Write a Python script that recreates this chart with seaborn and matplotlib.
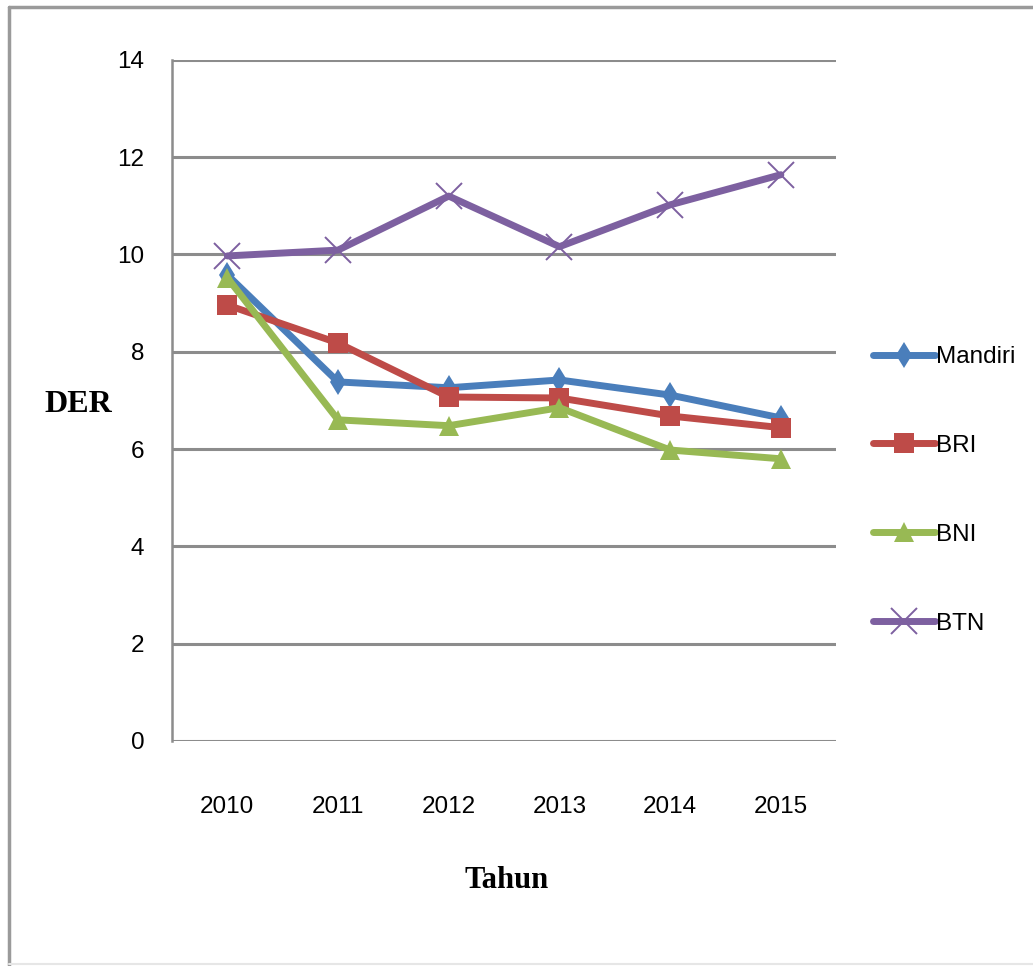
import pandas as pd
import seaborn as sns
import matplotlib.pyplot as plt
from matplotlib.lines import Line2D

# DER per bank, 2010-2015
years = [2010, 2011, 2012, 2013, 2014, 2015]
banks = ['Mandiri', 'BRI', 'BNI', 'BTN']
mandiri = [9.58, 7.38, 7.26, 7.42, 7.11, 6.64]
bri = [8.96, 8.18, 7.07, 7.05, 6.68, 6.44]
bni = [9.52, 6.60, 6.48, 6.85, 5.98, 5.80]
btn = [9.97, 10.09, 11.20, 10.16, 11.02, 11.64]
y_ticks = [0, 2, 4, 6, 8, 10, 12, 14]

colors = {'Mandiri': '#4a7ebb', 'BRI': '#be4b48', 'BNI': '#98b954', 'BTN': '#7d60a0'}
markers = {'Mandiri': 'd', 'BRI': 's', 'BNI': '^', 'BTN': 'x'}
sizes = {'Mandiri': 13, 'BRI': 14, 'BNI': 14, 'BTN': 19}

df = pd.DataFrame({
    'Tahun': years * 4,
    'DER': mandiri + bri + bni + btn,
    'Bank': sum([[b] * len(years) for b in banks], []),
})

sns.set_style('white')
plt.rcParams['font.family'] = ['Liberation Sans', 'DejaVu Sans']
plt.rcParams['text.color'] = 'black'
plt.rcParams['xtick.color'] = 'black'
plt.rcParams['ytick.color'] = 'black'

fig = plt.figure(figsize=(10.33, 9.66), dpi=100)
ax = fig.add_axes([0.1665, 0.233, 0.643, 0.705])

for b in banks:
    sub = df[df.Bank == b]
    is_x = b == 'BTN'
    sns.lineplot(data=sub, x='Tahun', y='DER', ax=ax, color=colors[b], lw=5,
                 marker=markers[b], markersize=sizes[b],
                 markeredgewidth=1.4 if is_x else 0,
                 markeredgecolor=colors[b], label=b, zorder=3)

ax.set_xlim(2009.5, 2015.5)
ax.set_ylim(0, 14)
ax.set_yticks(y_ticks)
ax.set_xticks(years)
ax.set_xticklabels([str(y) for y in years])
ax.tick_params(axis='both', length=0, labelsize=17.5)
ax.tick_params(axis='x', pad=40)
ax.tick_params(axis='y', pad=20)
ax.yaxis.grid(True, color='#8c8c8c', lw=2.2)
ax.set_axisbelow(True)
for s in ['top', 'right', 'bottom']:
    ax.spines[s].set_visible(False)
ax.spines['left'].set_color('#8c8c8c')
ax.spines['left'].set_linewidth(1.8)
ax.set_xlabel('')
ax.set_ylabel('')

fig.text(0.076, 1 - 405 / 966, 'DER', family='Liberation Serif', weight='bold',
         fontsize=23, ha='center', va='center')
fig.text(0.49, 1 - 880 / 966, 'Tahun', family='Liberation Serif', weight='bold',
         fontsize=22, ha='center', va='center')

ax.legend(loc='center left', bbox_to_anchor=(1.022, 0.368), frameon=False,
          fontsize=17.5, handlelength=2.55, handletextpad=0.05, labelspacing=2.75)

# outer frame of the picture
fig.add_artist(Line2D([0.009, 0.009], [0.0, 0.993], color='#9a9a9a', lw=2.5))
fig.add_artist(Line2D([0.009, 1.0], [0.993, 0.993], color='#9a9a9a', lw=2.5))
fig.add_artist(Line2D([0.009, 1.0], [0.002, 0.002], color='#e6e6e6', lw=1.5))

fig.savefig('out.png', dpi=100)
